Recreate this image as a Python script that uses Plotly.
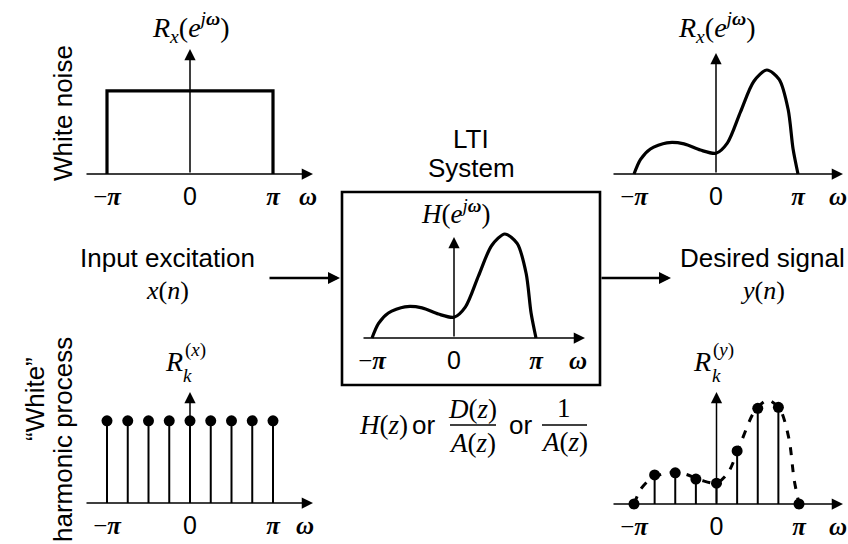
import plotly.graph_objects as go

W, H = 848, 544
U = 104.0  # pixels per unit of amplitude (layout scale)

# ---------------- data (omega in units of pi) ----------------
tick_w = [-1, 0, 1]
rect_w = [-1, -1, 1, 1]
rect_r = [0, 0.8, 0.8, 0]
spec_w = [-1.0, -0.92, -0.80, -0.60, -0.39, -0.19, 0.0, 0.14, 0.30, 0.46, 0.62, 0.77, 0.88, 0.94, 1.0]
spec_r = [0.0, 0.14, 0.24, 0.30, 0.29, 0.23, 0.20, 0.30, 0.60, 0.89, 1.0, 0.91, 0.62, 0.24, 0.0]
stem_w = [-1, -0.75, -0.5, -0.25, 0, 0.25, 0.5, 0.75, 1]
stem_x = [0.79, 0.79, 0.79, 0.79, 0.79, 0.79, 0.79, 0.79, 0.79]
stem_y = [0.0, 0.28, 0.30, 0.24, 0.20, 0.51, 0.92, 0.93, 0.0]

SANS = "Liberation Sans"
SERIF = "Liberation Serif"
PI = "<span style='font-family:Liberation Serif'><b><i>π</i></b></span>"
MPI = "<span style='font-family:Liberation Serif'>−<b><i>π</i></b></span>"
OM = "<span style='font-family:Liberation Serif'><b><i>ω</i></b></span>"

# ---------------- panel geometry (pixels) ----------------
geo = {
    1: dict(neg=107, pos=273, base=174, ax0=85, ax1=313, tip=49, om=308, top=40, bot=186),
    2: dict(neg=634, pos=798, base=174, ax0=612, ax1=843, tip=53, om=838, top=40, bot=186),
    3: dict(neg=372, pos=536, base=338, ax0=362, ax1=585, tip=237, om=578, top=226, bot=350),
    4: dict(neg=107, pos=273, base=503, ax0=85, ax1=313, tip=392, om=305, top=380, bot=516),
    5: dict(neg=634, pos=799, base=504, ax0=612, ax1=843, tip=392, om=838, top=380, bot=516),
}

fig = go.Figure()
layout = {}
annotations = []
shapes = []


def ref(n, a):
    return a if n == 1 else f"{a}{n}"


for n, g in geo.items():
    k = (g["pos"] - g["neg"]) / 2.0
    z = (g["pos"] + g["neg"]) / 2.0
    left = g["ax0"] - 3
    right = min(g["ax1"] + 4, W)
    xr = [(left - z) / k, (right - z) / k]
    yr = [(g["base"] - g["bot"]) / U, (g["base"] - g["top"]) / U]
    om_w = (g["om"] - z) / k
    layout["xaxis" if n == 1 else f"xaxis{n}"] = dict(
        domain=[left / W, right / W], range=xr, anchor="free", position=1 - g["base"] / H,
        tickvals=tick_w + [om_w], ticktext=[MPI, "0", PI, OM], tickangle=0,
        tickfont=dict(family=SANS, size=25, color="black"), ticks="", ticklabelstandoff=5,
        showline=False, showgrid=False, zeroline=False, fixedrange=True,
    )
    layout["yaxis" if n == 1 else f"yaxis{n}"] = dict(
        domain=[1 - g["bot"] / H, 1 - g["top"] / H], range=yr, visible=False,
        showgrid=False, zeroline=False, fixedrange=True, anchor=ref(n, "x"),
    )
    xa, ya = ref(n, "x"), ref(n, "y")
    # horizontal axis arrow
    annotations.append(dict(x=(g["ax1"] - z) / k, y=0, ax=(g["ax0"] - z) / k, ay=0,
                            xref=xa, yref=ya, axref=xa, ayref=ya, text="", showarrow=True,
                            arrowhead=2, arrowsize=1.5, arrowwidth=1.5, arrowcolor="black"))
    # vertical axis arrow
    annotations.append(dict(x=0, y=(g["base"] - g["tip"]) / U, ax=0, ay=0,
                            xref=xa, yref=ya, axref=xa, ayref=ya, text="", showarrow=True,
                            arrowhead=2, arrowsize=1.5, arrowwidth=1.5, arrowcolor="black"))

line = dict(color="black", width=3.2)
# panel 1: white noise spectrum
fig.add_trace(go.Scatter(x=rect_w, y=rect_r, mode="lines", line=line, xaxis="x", yaxis="y"))
# panel 2: output spectrum
fig.add_trace(go.Scatter(x=spec_w, y=spec_r, mode="lines",
                         line=dict(color="black", width=3.2, shape="spline", smoothing=0.8),
                         xaxis="x2", yaxis="y2"))
# panel 3: system response
fig.add_trace(go.Scatter(x=spec_w, y=spec_r, mode="lines",
                         line=dict(color="black", width=3.2, shape="spline", smoothing=0.8),
                         xaxis="x3", yaxis="y3"))


def stems(w, v, xa, ya):
    xs, ys = [], []
    for a, b in zip(w, v):
        xs += [a, a, None]
        ys += [0, b, None]
    fig.add_trace(go.Scatter(x=xs, y=ys, mode="lines", line=dict(color="black", width=2),
                             xaxis=xa, yaxis=ya))
    fig.add_trace(go.Scatter(x=w, y=v, mode="markers", marker=dict(color="black", size=11),
                             xaxis=xa, yaxis=ya))


# panel 4: white harmonic process
stems(stem_w, stem_x, "x4", "y4")
# panel 5: output autocorrelation samples
fig.add_trace(go.Scatter(x=spec_w, y=spec_r, mode="lines",
                         line=dict(color="black", width=3, shape="spline", smoothing=0.8, dash="8px,9px"),
                         xaxis="x5", yaxis="y5"))
stems(stem_w, stem_y, "x5", "y5")


def txt(text, px, py, size=26, family=SANS, angle=0):
    annotations.append(dict(text=text, x=px / W, y=1 - py / H, xref="paper", yref="paper",
                            showarrow=False, textangle=angle, xanchor="center", yanchor="middle",
                            font=dict(family=family, size=size, color="black")))


# math labels
RX = "<i>R</i><sub><i>x</i></sub>(<i>e</i><sup><i>j</i><b><i>ω</i></b></sup>)"
txt(RX, 191, 27, 28, SERIF)
txt(RX, 717, 27, 28, SERIF)
txt("<i>H</i>(<i>e</i><sup><i>j</i><b><i>ω</i></b></sup>)", 455, 212, 27, SERIF)
txt("<i>R</i>", 174, 361, 28, SERIF)
txt("(<i>x</i>)", 195, 350, 19, SERIF)
txt("<i>k</i>", 187, 375, 19, SERIF)
txt("<i>R</i>", 702, 361, 28, SERIF)
txt("(<i>y</i>)", 723, 350, 19, SERIF)
txt("<i>k</i>", 716, 375, 19, SERIF)

# side labels
txt("White noise", 63, 113, 26, SANS, -90)
txt("“White”", 35, 399, 26, SANS, -90)
txt("harmonic process", 63, 440, 26, SANS, -90)

# system labels
txt("LTI", 471, 139)
txt("System", 471, 168)
txt("Input excitation", 167, 258)
txt("<i>x</i>(<i>n</i>)", 167, 290, 26, SERIF)
txt("Desired signal", 762, 258)
txt("<i>y</i>(<i>n</i>)", 762, 290, 26, SERIF)

# transfer function expressions
txt("<i>H</i>(<i>z</i>)", 383, 425, 27, SERIF)
txt("or", 423, 425)
txt("<i>D</i>(<i>z</i>)", 473, 409, 27, SERIF)
txt("<i>A</i>(<i>z</i>)", 473, 443, 27, SERIF)
txt("or", 520, 425)
txt("1", 564, 408, 27, SERIF)
txt("<i>A</i>(<i>z</i>)", 564, 442, 27, SERIF)

shapes.append(dict(type="line", xref="paper", yref="paper", x0=450 / W, x1=496 / W,
                   y0=1 - 425 / H, y1=1 - 425 / H, line=dict(color="black", width=1.3)))
shapes.append(dict(type="line", xref="paper", yref="paper", x0=542 / W, x1=587 / W,
                   y0=1 - 425 / H, y1=1 - 425 / H, line=dict(color="black", width=1.3)))
# system box
shapes.append(dict(type="rect", xref="paper", yref="paper", x0=342 / W, x1=600 / W,
                   y0=1 - 385 / H, y1=1 - 192 / H, line=dict(color="black", width=2.6)))

# input / output arrows
annotations.append(dict(x=340 / W, y=1 - 278 / H, ax=-72, ay=0, xref="paper", yref="paper",
                        text="", showarrow=True, arrowhead=2, arrowsize=1.0, arrowwidth=2.4,
                        arrowcolor="black"))
annotations.append(dict(x=671 / W, y=1 - 278 / H, ax=-71, ay=0, xref="paper", yref="paper",
                        text="", showarrow=True, arrowhead=2, arrowsize=1.0, arrowwidth=2.4,
                        arrowcolor="black"))

fig.update_layout(width=W, height=H, margin=dict(l=0, r=0, t=0, b=0),
                  paper_bgcolor="white", plot_bgcolor="white", showlegend=False,
                  annotations=annotations, shapes=shapes, **layout)

fig.write_html("out.html")
